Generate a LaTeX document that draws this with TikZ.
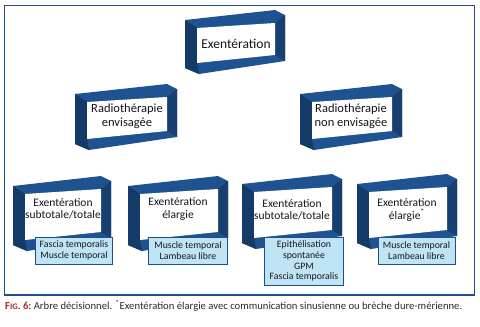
\documentclass[tikz,border=0pt]{standalone}
\usepackage{fontspec}
\usepackage{graphicx}
\setmainfont{Carlito}
\usetikzlibrary{backgrounds}
\definecolor{fmain}{HTML}{1F5290}
\definecolor{fleft}{HTML}{143A68}
\definecolor{fright}{HTML}{173F70}
\definecolor{bord}{HTML}{1F4E8C}
\definecolor{labfill}{HTML}{BFE4F6}
\definecolor{connc}{HTML}{86C8E8}
\definecolor{txtc}{HTML}{15151F}
\definecolor{capred}{HTML}{9E2A2B}
\definecolor{capgrey}{HTML}{2B2B2B}
\newcommand\frm[4]{%
\begin{scope}[shift={(#1,#2)}]
 \fill[fmain] (-12,-8) -- (#3,-18) -- (#3+10,-13) -- (#3+10,#4-2) -- (2,#4+11) -- (-12,#4+5) -- cycle;
 \fill[fleft] (-12,-8) -- (0,0) -- (0,#4) -- (2,#4+11) -- (-12,#4+5) -- cycle;
 \fill[fright] (#3,-5) -- (#3+10,-13) -- (#3+10,#4-2) -- (#3,#4-8) -- cycle;
 \fill[white] (0,0) -- (#3,-5) -- (#3,#4-8) -- (0,#4) -- cycle;
\end{scope}}
\tikzset{
 txt/.style={align=center, text=txtc, inner sep=0pt},
 bigtxt/.style={txt, font=\fontsize{13.5}{15}\selectfont},
 midtxt/.style={txt, font=\fontsize{12.5}{14}\selectfont},
 smtxt/.style={txt, font=\fontsize{11.5}{12.5}\selectfont},
 lab/.style={draw=bord, fill=labfill, line width=0.8pt, align=center, text=txtc, inner sep=0pt, font=\fontsize{9.8}{10.8}\selectfont},
 conn/.style={draw=connc, line width=1pt},
}
\begin{document}
\begin{tikzpicture}[x=1pt,y=-1pt]
\useasboundingbox (0,0) rectangle (480,327);
\fill[white] (0,0) rectangle (480,327);
\draw[bord, line width=1.3pt] (4.5,5.5) rectangle (474.5,295);
% frames
\frm{197}{28}{78}{35}
\frm{87}{102}{80}{37}
\frm{312}{102}{80}{37}
\frm{25}{194}{76}{46}
\frm{140}{194}{78}{46}
\frm{254}{192}{78}{46}
\frm{369}{192}{78}{46}
% texts
\node[bigtxt] (top) at (236,44) {Exentération};
\node[midtxt] (rl) at (127,116) {Radiothérapie\\envisagée};
\node[midtxt] (rr) at (351,116) {Radiothérapie\\non envisagée};
\node[smtxt] (b1) at (63,209) {Exentération\\subtotale/totale};
\node[smtxt] (b2) at (178,209) {Exentération\\élargie};
\node[smtxt] (b3) at (292,210) {Exentération\\subtotale/totale};
\node[smtxt] (b4) at (407,210) {Exentération\\élargie\textsuperscript{*}};
% labels
\node[lab, minimum width=77pt, minimum height=27pt] (l1) at (74,250.5) {Fascia temporalis\\Muscle temporal};
\node[lab, minimum width=79pt, minimum height=27pt] (l2) at (188,250.5) {Muscle temporal\\Lambeau libre};
\node[lab, minimum width=79pt, minimum height=48pt] (l3) at (304,261) {Epithélisation\\spontanée\\GPM\\Fascia temporalis};
\node[lab, minimum width=77pt, minimum height=27pt] (l4) at (416.5,250.5) {Muscle temporal\\Lambeau libre};
% connectors
\coordinate (j0) at (236,81);
\coordinate (jl) at (120,81);
\coordinate (jr) at (351,81);
\coordinate (jlb) at (120,210);
\coordinate (jrb) at (350,210);
\begin{pgfonlayer}{background}
\draw[conn] (top) -- (j0);
\draw[conn] (jl) -- (jr);
\draw[conn] (jl) -- (rl.center -| jl);
\draw[conn] (jr) -- (rr.center -| jr);
\draw[conn] (rl.center -| jlb) -- (jlb);
\draw[conn] (b1.center |- jlb) -- (b2.center |- jlb);
\draw[conn] (rr.center -| jrb) -- (jrb);
\draw[conn] (b3.center |- jrb) -- (b4.center |- jrb);
\end{pgfonlayer}
% caption
\node[anchor=west, inner sep=0pt] (cap) at (5,305.5) {\resizebox{457pt}{!}{\color{capred}\bfseries F{\footnotesize IG}. 6:\color{capgrey}\mdseries\ Arbre décisionnel. \textsuperscript{*}Exentération élargie avec communication sinusienne ou brèche dure-mérienne.}};
\end{tikzpicture}
\end{document}
